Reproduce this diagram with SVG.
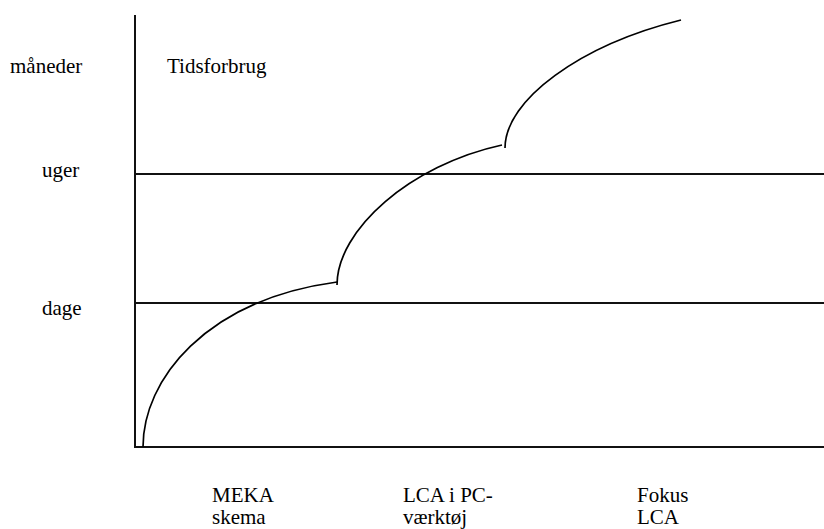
<svg xmlns="http://www.w3.org/2000/svg" width="824" height="529" viewBox="0 0 824 529">
  <rect width="824" height="529" fill="#fff"/>

  <!-- axes and level lines (shared stroke set on the group) -->
  <g id="axes" stroke="#111" stroke-width="2" fill="none">
    <line x1="135" y1="15" x2="135" y2="448"/>
    <line x1="134" y1="447" x2="824" y2="447"/>
    <line x1="135" y1="174" x2="824" y2="174"/>
    <line x1="135" y1="303" x2="824" y2="303"/>
  </g>

  <!-- time-consumption curves, one per method -->
  <g id="curves" stroke="#000" stroke-width="1.7" fill="none">
    <path d="M143,447 C143,380 205,300 337,282"/>
    <path d="M337,285 C337,230 410,165 502,145"/>
    <path d="M505,148 C505,100 580,45 681,20"/>
  </g>

  <!-- labels: y-axis levels, title, methods under the x-axis -->
  <text x="10" y="73" font-family="Times New Roman, Liberation Serif, serif" font-size="21">måneder</text>
  <text x="42" y="177" font-family="Times New Roman, Liberation Serif, serif" font-size="21">uger</text>
  <text x="42" y="315" font-family="Times New Roman, Liberation Serif, serif" font-size="21">dage</text>
  <text x="167" y="73" font-family="Times New Roman, Liberation Serif, serif" font-size="21">Tidsforbrug</text>
  <text x="212" y="502" font-family="Times New Roman, Liberation Serif, serif" font-size="21">MEKA</text>
  <text x="212" y="524" font-family="Times New Roman, Liberation Serif, serif" font-size="21">skema</text>
  <text x="403" y="502" font-family="Times New Roman, Liberation Serif, serif" font-size="21">LCA i PC-</text>
  <text x="403" y="524" font-family="Times New Roman, Liberation Serif, serif" font-size="21">værktøj</text>
  <text x="637" y="502" font-family="Times New Roman, Liberation Serif, serif" font-size="21">Fokus</text>
  <text x="637" y="524" font-family="Times New Roman, Liberation Serif, serif" font-size="21">LCA</text>
</svg>
